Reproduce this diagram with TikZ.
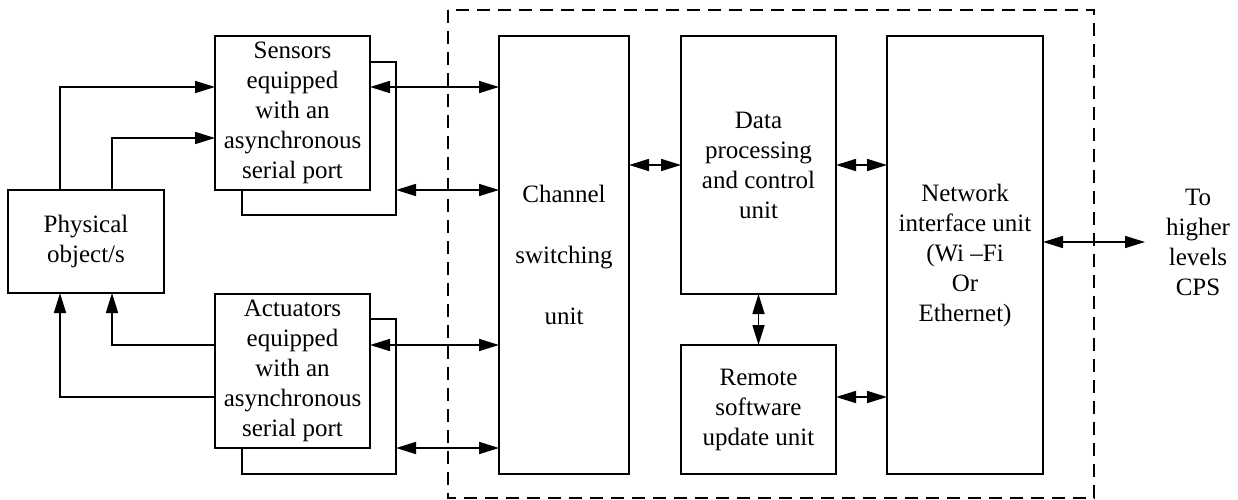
\documentclass[tikz,border=0pt]{standalone}
\usepackage{fontspec}
\setmainfont{Liberation Serif}
\usetikzlibrary{arrows.meta}
\begin{document}
\begin{tikzpicture}[x=1pt,y=-1pt,line width=1.6pt,
  >={Triangle[length=20pt,width=12pt]},
  box/.style={draw,fill=white,inner sep=0pt,outer sep=0pt,align=center,font=\rmfamily\fontsize{25}{30}\selectfont},
  shadowbox/.style={draw,fill=white,inner sep=0pt,outer sep=0pt},
  plain/.style={inner sep=0pt,outer sep=0pt,align=center,font=\rmfamily\fontsize{25}{30}\selectfont},
  arr/.style={->},
  darr/.style={<->},
  frame/.style={dash pattern=on 13pt off 8pt}]
\useasboundingbox (0,0) rectangle (1238,500);
% dashed enclosure
\draw[frame] (448,10) rectangle (1094,498);
% shadows
\node[shadowbox,minimum width=154pt,minimum height=153pt] (ssh) at (319,138.5) {};
\node[shadowbox,minimum width=154pt,minimum height=155pt] (ash) at (319,396.5) {};
% boxes
\node[box,minimum width=155pt,minimum height=154pt] (sens) at (292.5,113) {Sensors\\equipped\\with an\\asynchronous\\serial port};
\node[box,minimum width=155pt,minimum height=154pt] (act) at (292.5,371) {Actuators\\equipped\\with an\\asynchronous\\serial port};
\node[box,minimum width=156pt,minimum height=103pt] (phys) at (86,241.5) {Physical\\object/s};
\node[box,minimum width=130pt,minimum height=438pt] (chan) at (564,255) {Channel\\[31pt]switching\\[31pt]unit};
\node[box,minimum width=155pt,minimum height=258pt] (data) at (758.5,165) {Data\\processing\\and control\\unit};
\node[box,minimum width=155pt,minimum height=129pt] (remote) at (758.5,409.5) {Remote\\software\\update unit};
\node[box,minimum width=156pt,minimum height=438pt] (net) at (965,255) {Network\\interface unit\\(Wi --Fi\\Or\\Ethernet)};
\node[plain] (cps) at (1198,242) {To\\higher\\levels\\CPS};
\coordinate (outend) at (1145,242);
% physical <-> sensors/actuators
\draw[arr] ([xshift=-26pt]phys.north) |- ([yshift=26pt]sens.west);
\draw[arr] ([xshift=26pt]phys.north) |- ([yshift=-25pt]sens.west);
\draw[arr] ([yshift=26pt]act.west) -| ([xshift=26pt]phys.south);
\draw[arr] ([yshift=-26pt]act.west) -| ([xshift=-26pt]phys.south);
% to channel switching unit
\draw[darr] ([yshift=26pt]sens.east) -- ([yshift=26pt]sens.east -| chan.west);
\draw[darr] (ssh.east |- sens.south) -- (chan.west |- sens.south);
\draw[darr] ([yshift=26pt]act.east) -- ([yshift=26pt]act.east -| chan.west);
\draw[darr] (ash.east |- act.south) -- (chan.west |- act.south);
% internal
\draw[darr] (chan.east |- data.west) -- (data.west);
\draw[darr] (data.east) -- (data.east -| net.west);
\draw[darr] (data.south) -- (remote.north);
\draw[darr] ([yshift=12.5pt]remote.east) -- ([yshift=12.5pt]remote.east -| net.west);
\draw[darr] ([yshift=13pt]net.east) -- (outend);
\end{tikzpicture}
\end{document}
